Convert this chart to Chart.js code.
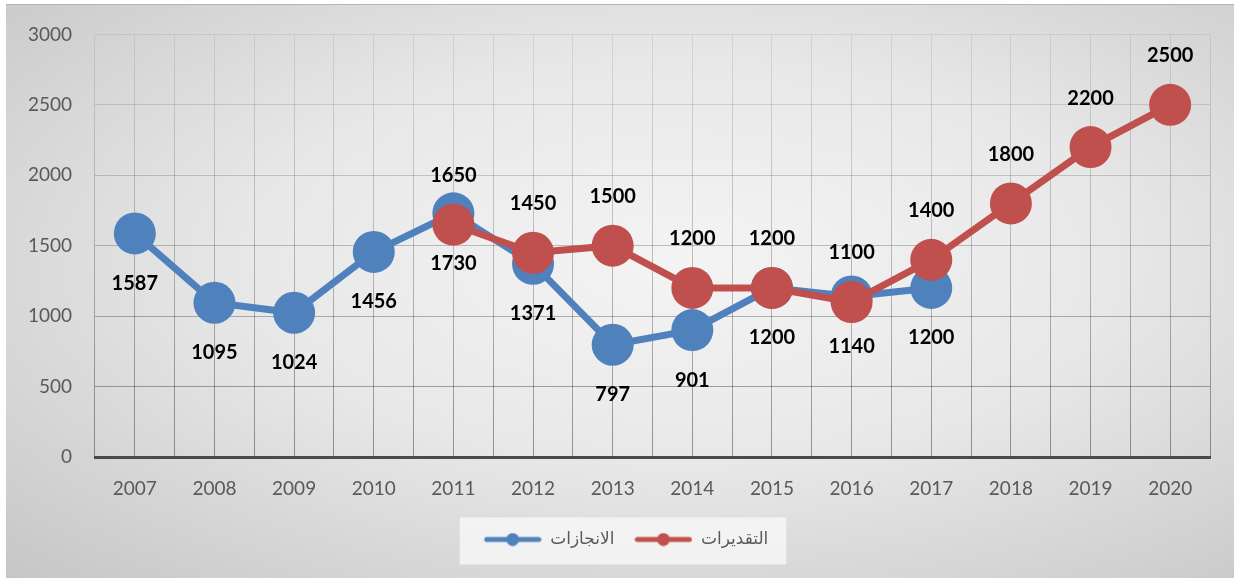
<!DOCTYPE html>
<html>
<head>
<meta charset="utf-8">
<script src="https://cdn.jsdelivr.net/npm/chart.js@4/dist/chart.umd.min.js"></script>
<style>
  html, body { margin: 0; padding: 0; background: #fff; }
  #bg {
    position: absolute; left: 6px; top: 4px; width: 1228px; height: 573px;
    border-top: 1px solid #b4b4b4;
    background: radial-gradient(ellipse at 55% 45%, #f4f4f4 0%, #e8e8e8 45%, #c6c6c6 100%);
  }
  #chart { position: absolute; left: 0; top: 0; }
</style>
</head>
<body>
<div id="bg"></div>
<canvas id="chart" width="1234" height="580"></canvas>
<script>
// Chart data
const years = ["2007", "2008", "2009", "2010", "2011", "2012", "2013", "2014", "2015", "2016", "2017", "2018", "2019", "2020"];
const achieved = [1587, 1095, 1024, 1456, 1730, 1371, 797, 901, 1200, 1140, 1200, null, null, null];
const estimated = [null, null, null, null, 1650, 1450, 1500, 1200, 1200, 1100, 1400, 1800, 2200, 2500];
const seriesNames = ["الانجازات", "التقديرات"];
const seriesColors = ["#4f81bd", "#c0504d"];

// legend marker: line with a dot in the middle
function legendMarker(color) {
  const c = document.createElement("canvas");
  c.width = 58;
  c.height = 14;
  const g = c.getContext("2d");
  g.strokeStyle = color;
  g.fillStyle = color;
  g.lineWidth = 5;
  g.lineCap = "round";
  g.beginPath();
  g.moveTo(3, 7);
  g.lineTo(55, 7);
  g.stroke();
  g.beginPath();
  g.arc(29, 7, 6.5, 0, Math.PI * 2);
  g.fill();
  return c;
}

// grid colour fades toward the top of the plot
function gridColor(context) {
  const chart = context.chart;
  const area = chart.chartArea;
  if (!area) return "rgba(0,0,0,0.2)";
  const grad = chart.ctx.createLinearGradient(0, area.top, 0, area.bottom);
  grad.addColorStop(0, "rgba(0,0,0,0.07)");
  grad.addColorStop(1, "rgba(0,0,0,0.38)");
  return grad;
}

// value labels: blue below the point, red above
const valueLabels = {
  id: "valueLabels",
  afterDatasetsDraw(chart) {
    const ctx = chart.ctx;
    ctx.save();
    ctx.font = "bold 20px Lato, 'DejaVu Sans', sans-serif";
    ctx.fillStyle = "#000";
    ctx.textAlign = "center";
    ctx.textBaseline = "middle";
    chart.data.datasets.forEach((ds, i) => {
      const meta = chart.getDatasetMeta(i);
      const shift = i === 0 ? 50 : -49;
      meta.data.forEach((pt, j) => {
        const v = ds.data[j];
        if (v === null) return;
        ctx.fillText(String(v), pt.x, pt.y + shift);
      });
    });
    ctx.restore();
  }
};

// nudge the legend a little right (it is centred under the plot, not the canvas)
const legendShift = {
  id: "legendShift",
  afterUpdate(chart) {
    const lg = chart.legend;
    if (!lg) return;
    lg.left += 21;
    lg.right += 21;
    lg.legendHitBoxes.forEach(b => { b.left += 21; });
  }
};

// light box behind the legend
const legendBox = {
  id: "legendBox",
  beforeDraw(chart) {
    const lg = chart.legend;
    if (!lg || !lg.legendHitBoxes.length) return;
    const boxes = lg.legendHitBoxes;
    const left = Math.min(...boxes.map(b => b.left));
    const right = Math.max(...boxes.map(b => b.left + b.width));
    const cy = boxes[0].top + boxes[0].height / 2;
    const ctx = chart.ctx;
    ctx.save();
    ctx.fillStyle = "rgba(250,250,250,0.75)";
    ctx.fillRect(left - 24, cy - 22, right - left + 42, 47);
    ctx.restore();
  }
};

const config = {
  type: "line",
  data: {
    labels: years,
    datasets: [
      {
        label: seriesNames[0],
        data: achieved,
        borderColor: seriesColors[0],
        backgroundColor: seriesColors[0],
        borderWidth: 7,
        pointRadius: 21,
        pointHoverRadius: 21,
        pointBorderWidth: 0,
        order: 1
      },
      {
        label: seriesNames[1],
        data: estimated,
        borderColor: seriesColors[1],
        backgroundColor: seriesColors[1],
        borderWidth: 7,
        pointRadius: 21,
        pointHoverRadius: 21,
        pointBorderWidth: 0,
        order: 0
      }
    ]
  },
  options: {
    responsive: false,
    animation: false,
    layout: { padding: { left: 0, right: 24, top: 33, bottom: 22 } },
    scales: {
      x: {
        type: "category",
        offset: true,
        grid: { offset: true, drawTicks: false, color: gridColor, lineWidth: 1 },
        border: { display: true, color: "#4a4a4a", width: 3 },
        ticks: { color: "#595959", font: { family: "Lato, sans-serif", size: 19 }, padding: 20 },
        afterFit(scale) { scale.height = 54; }
      },
      x2: {
        type: "category",
        position: "bottom",
        labels: years,
        offset: true,
        grid: { offset: false, drawTicks: false, color: gridColor, lineWidth: 1 },
        border: { display: false },
        ticks: { display: false },
        afterFit(scale) { scale.height = 0; }
      },
      y: {
        min: 0,
        max: 3000,
        grid: { drawTicks: false, color: gridColor, lineWidth: 1 },
        border: { display: false },
        ticks: {
          stepSize: 500,
          color: "#595959",
          font: { family: "Lato, sans-serif", size: 19 },
          padding: 23,
          callback: v => String(v)
        },
        afterFit(scale) { scale.width = 95; }
      }
    },
    plugins: {
      tooltip: { enabled: false },
      legend: {
        position: "bottom",
        labels: {
          usePointStyle: true,
          pointStyleWidth: 58,
          padding: 20,
          color: "#595959",
          font: { family: "'DejaVu Sans', sans-serif", size: 17 },
          generateLabels(chart) {
            return seriesNames.map((name, i) => ({
              text: name,
              datasetIndex: i,
              pointStyle: legendMarker(seriesColors[i]),
              fillStyle: seriesColors[i],
              strokeStyle: seriesColors[i],
              lineWidth: 0,
              fontColor: "#595959",
              hidden: false
            }));
          }
        }
      }
    }
  },
  plugins: [legendShift, legendBox, valueLabels]
};

new Chart(document.getElementById("chart").getContext("2d"), config);
</script>
</body>
</html>
